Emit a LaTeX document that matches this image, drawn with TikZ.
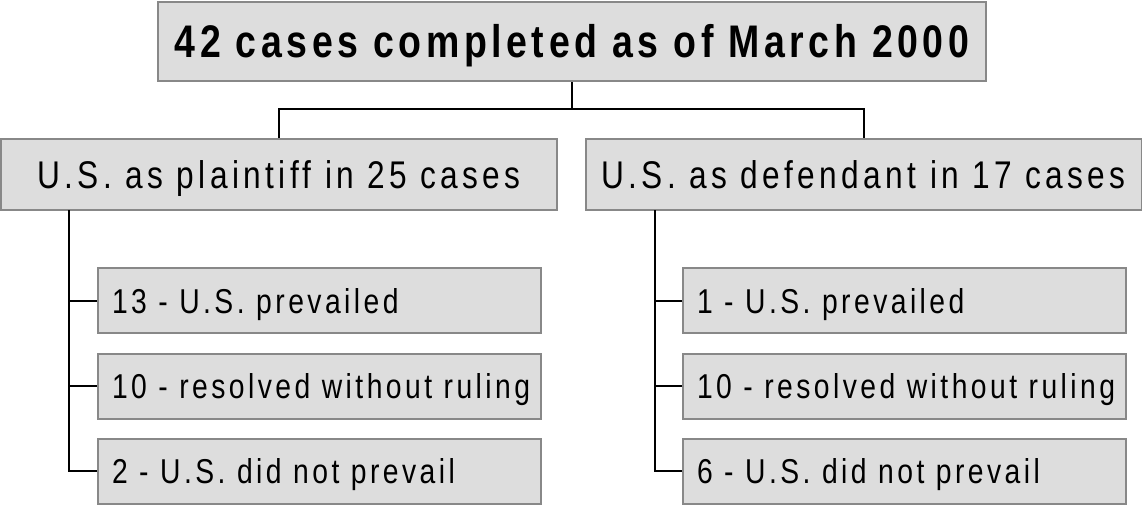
\documentclass[tikz,border=0pt]{standalone}
\usepackage{fontspec}
\newfontfamily\chartfont[FakeStretch=0.82,LetterSpace=10]{Liberation Sans}
\usetikzlibrary{positioning}

\definecolor{boxfill}{HTML}{DDDDDD}
\definecolor{boxline}{HTML}{888888}

\tikzset{
    box/.style={draw=boxline, fill=boxfill, line width=2pt, inner sep=0pt, font=\chartfont},
    headbox/.style={box, minimum width=828pt, minimum height=79pt, text height=32pt, text depth=0pt,
        font=\chartfont\bfseries\fontsize{45.7}{48}\selectfont},
    groupbox/.style={box, minimum width=556pt, minimum height=71pt, text height=27pt, text depth=0pt,
        font=\chartfont\addfontfeature{LetterSpace=11.5}\fontsize{38.6}{41}\selectfont},
    leafbox/.style={box, text width=415pt, inner xsep=14pt, align=left, minimum height=65pt,
        text height=25pt, text depth=0pt, font=\chartfont\fontsize{34.5}{37}\selectfont},
    link/.style={draw=black, line width=2pt},
}

\begin{document}
\begin{tikzpicture}[x=1pt, y=-1pt]
    \useasboundingbox (0,0) rectangle (1142,504);

    % Total
    \node[headbox] (total) at (572,41.5) {42 cases completed as of March 2000};

    % The two groups
    \node[groupbox] (plaintiff) at (279,174.5) {U.S. as plaintiff in 25 cases};
    \node[groupbox] (defendant) at (863.5,174.5) {U.S. as defendant in 17 cases};

    \coordinate (split) at (572,109);
    \draw[link] (total.south) -- (split);
    \draw[link] (split) -| (plaintiff.north);
    \draw[link] (split) -| (defendant.north);

    % Outcomes, U.S. as plaintiff
    \foreach \y/\txt [count=\i] in {300.5/{13 - U.S. prevailed},
                                    386/{10 - resolved without ruling},
                                    471/{2 - U.S. did not prevail}}
        \node[leafbox] (p\i) at (319.5,\y) {\txt};

    % Outcomes, U.S. as defendant
    \foreach \y/\txt [count=\i] in {300.5/{1 - U.S. prevailed},
                                    386/{10 - resolved without ruling},
                                    471/{6 - U.S. did not prevail}}
        \node[leafbox] (d\i) at (904.5,\y) {\txt};

    % Trunks
    \coordinate (ptrunk) at (69,210);
    \coordinate (dtrunk) at (655,210);
    \draw[link] (ptrunk) |- (p3.west);
    \draw[link] (dtrunk) |- (d3.west);
    \foreach \i in {1,2} {
        \draw[link] (ptrunk |- p\i.west) -- (p\i.west);
        \draw[link] (dtrunk |- d\i.west) -- (d\i.west);
    }
\end{tikzpicture}
\end{document}
